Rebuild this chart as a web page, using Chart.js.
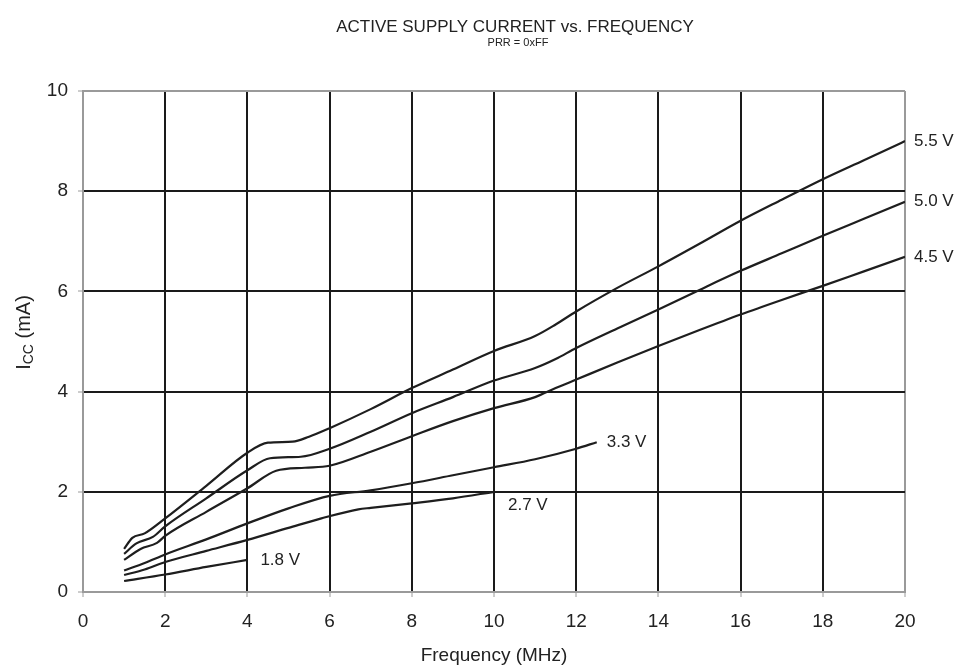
<!DOCTYPE html>
<html>
<head>
<meta charset="utf-8">
<script src="https://cdn.jsdelivr.net/npm/chart.js@4"></script>
<style>
  html, body { margin: 0; padding: 0; background: #fff; }
  #wrap { width: 967px; height: 667px; position: relative; }
</style>
</head>
<body>
<div id="wrap"><canvas id="iccChart"></canvas></div>
<script>
// supply voltage curves, Icc (mA) vs frequency (MHz)
const seriesNames = ['5.5 V', '5.0 V', '4.5 V', '3.3 V', '2.7 V', '1.8 V'];

const freq55 = [1, 1.2, 1.5, 2, 3, 4, 4.5, 5.1, 5.5, 6, 7, 8, 9, 10, 11, 11.5, 12, 13, 14, 15, 16, 17, 18, 19, 20];
const icc55  = [0.86, 1.08, 1.17, 1.47, 2.12, 2.78, 2.98, 3.0, 3.1, 3.27, 3.65, 4.07, 4.44, 4.81, 5.11, 5.34, 5.6, 6.07, 6.5, 6.95, 7.41, 7.83, 8.24, 8.62, 9.0];

const freq50 = [1, 1.3, 1.7, 2, 3, 4, 4.55, 5.3, 6, 7, 8, 9, 10, 11, 11.5, 12, 13, 14, 15, 16, 17, 18, 19, 20];
const icc50  = [0.76, 0.97, 1.1, 1.31, 1.87, 2.43, 2.67, 2.7, 2.86, 3.2, 3.57, 3.89, 4.22, 4.47, 4.65, 4.87, 5.26, 5.64, 6.03, 6.41, 6.76, 7.11, 7.45, 7.79];

const freq45 = [1, 1.4, 1.8, 2, 3, 4, 4.7, 5.4, 6, 7, 8, 9, 10, 11, 11.5, 12, 13, 14, 15, 16, 17, 18, 19, 20];
const icc45  = [0.64, 0.86, 0.98, 1.12, 1.6, 2.07, 2.42, 2.48, 2.52, 2.8, 3.11, 3.41, 3.67, 3.89, 4.07, 4.24, 4.58, 4.91, 5.23, 5.54, 5.83, 6.11, 6.4, 6.69];

const freq33 = [1, 1.5, 2, 3, 4, 5, 6, 7, 8, 9, 10, 11, 12, 12.5];
const icc33  = [0.43, 0.58, 0.75, 1.05, 1.37, 1.67, 1.92, 2.03, 2.17, 2.33, 2.49, 2.65, 2.86, 2.99];

const freq27 = [1, 1.5, 2, 3, 4, 5, 5.8, 6.7, 7, 8, 9, 10];
const icc27  = [0.34, 0.45, 0.6, 0.82, 1.04, 1.28, 1.47, 1.65, 1.68, 1.77, 1.87, 2.0];

const freq18 = [1, 2, 3, 4];
const icc18  = [0.22, 0.35, 0.5, 0.64];

const xTicks = [0, 2, 4, 6, 8, 10, 12, 14, 16, 18, 20];
const yTicks = [0, 2, 4, 6, 8, 10];

const chartTitle = 'ACTIVE SUPPLY CURRENT vs. FREQUENCY';
const chartSubtitle = 'PRR = 0xFF';

const freqs = [freq55, freq50, freq45, freq33, freq27, freq18];
const iccs = [icc55, icc50, icc45, icc33, icc27, icc18];

// where each curve label sits relative to its last point
const labelOffsets = [[9, 0], [9, 0], [9, 0], [10, 0], [14, 14], [13, 0]];

const FONT = '"Liberation Sans", Arial, Helvetica, sans-serif';
const INK = '#222';
const edgeGray = '#9a9a9a';

const datasets = seriesNames.map((name, i) => ({
  label: name,
  data: freqs[i].map((f, j) => ({ x: f, y: iccs[i][j] })),
  borderColor: '#1e1e1e',
  borderWidth: 2.2,
  pointRadius: 0,
  fill: false,
  cubicInterpolationMode: 'monotone'
}));

const curveLabels = {
  id: 'curveLabels',
  afterDatasetsDraw(chart) {
    const c = chart.ctx;
    c.save();
    c.font = '17px ' + FONT;
    c.fillStyle = INK;
    c.textBaseline = 'middle';
    c.textAlign = 'left';
    chart.data.datasets.forEach((ds, i) => {
      const pts = chart.getDatasetMeta(i).data;
      const last = pts[pts.length - 1];
      c.fillText(ds.label, last.x + labelOffsets[i][0], last.y + labelOffsets[i][1]);
    });
    c.restore();
  }
};

// header text sits a bit right of the plot centre in the original
const header = {
  id: 'header',
  afterDraw(chart) {
    const c = chart.ctx;
    const area = chart.chartArea;
    const cx = (area.left + area.right) / 2 + 21;
    c.save();
    c.fillStyle = INK;
    c.textAlign = 'center';
    c.textBaseline = 'middle';
    c.font = '17px ' + FONT;
    c.fillText(chartTitle, cx, 27);
    c.font = '11px ' + FONT;
    c.fillText(chartSubtitle, cx + 3, 43);
    c.restore();
  }
};

// y axis title with subscript CC
const yTitle = {
  id: 'yTitle',
  afterDraw(chart) {
    const c = chart.ctx;
    const area = chart.chartArea;
    c.save();
    c.translate(24, (area.top + area.bottom) / 2 - 9);
    c.rotate(-Math.PI / 2);
    c.fillStyle = INK;
    c.textBaseline = 'middle';
    c.textAlign = 'left';
    const parts = [['I', 20, 0], ['CC', 14, 5], [' (mA)', 20, 0]];
    let w = 0;
    parts.forEach(p => { c.font = p[1] + 'px ' + FONT; w += c.measureText(p[0]).width; });
    let x = -w / 2;
    parts.forEach(p => {
      c.font = p[1] + 'px ' + FONT;
      c.fillText(p[0], x, p[2]);
      x += c.measureText(p[0]).width;
    });
    c.restore();
  }
};

function gridColor(max) {
  return ctx => (ctx.tick && (ctx.tick.value === 0 || ctx.tick.value === max)) ? edgeGray : '#1a1a1a';
}

new Chart(document.getElementById('iccChart'), {
  type: 'line',
  data: { datasets: datasets },
  options: {
    responsive: true,
    maintainAspectRatio: false,
    animation: false,
    layout: { padding: { left: 0, right: 0, top: 91, bottom: 0 } },
    plugins: {
      legend: { display: false },
      tooltip: { enabled: false }
    },
    scales: {
      x: {
        type: 'linear',
        min: 0,
        max: 20,
        afterBuildTicks: s => { s.ticks = xTicks.map(v => ({ value: v })); },
        afterFit: s => { s.height = 75; },
        grid: {
          color: gridColor(20),
          lineWidth: 2,
          tickColor: edgeGray,
          tickLength: 5,
          tickWidth: 1
        },
        border: { color: edgeGray, width: 2 },
        ticks: { color: INK, font: { family: FONT, size: 19 }, padding: 13, maxRotation: 0 },
        title: {
          display: true,
          text: 'Frequency (MHz)',
          color: INK,
          font: { family: FONT, size: 19 },
          padding: { top: 0, bottom: 0 }
        }
      },
      y: {
        type: 'linear',
        min: 0,
        max: 10,
        afterBuildTicks: s => { s.ticks = yTicks.map(v => ({ value: v })); },
        afterFit: s => { s.width = 83; },
        grid: {
          color: gridColor(10),
          lineWidth: 2,
          tickColor: edgeGray,
          tickLength: 5,
          tickWidth: 1
        },
        border: { color: edgeGray, width: 2 },
        ticks: { color: INK, font: { family: FONT, size: 19 }, padding: 10 }
      },
      // empty axis that only keeps room for the curve labels on the right
      gutter: {
        type: 'linear',
        position: 'right',
        min: 0,
        max: 10,
        afterFit: s => { s.width = 62; },
        grid: { display: false },
        border: { display: false },
        ticks: { display: false }
      }
    }
  },
  plugins: [curveLabels, header, yTitle]
});
</script>
</body>
</html>
